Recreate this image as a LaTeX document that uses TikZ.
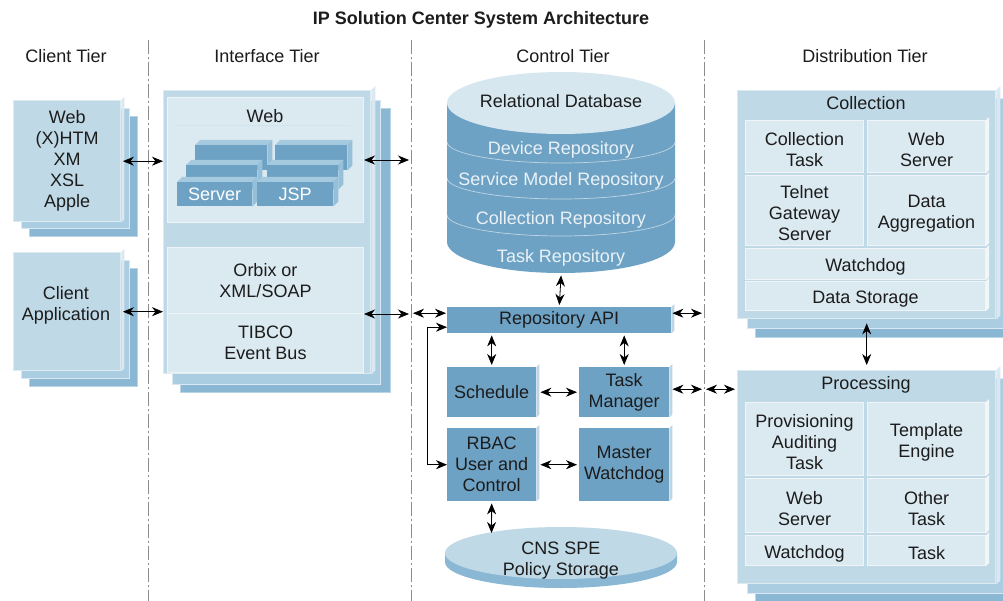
\documentclass[tikz,border=0pt]{standalone}
\usepackage{fontspec}
\setmainfont{Liberation Sans}
\usetikzlibrary{calc,arrows.meta}
\definecolor{midblue}{RGB}{110,162,196}
\definecolor{lightblue}{RGB}{192,217,231}
\definecolor{paleblue}{RGB}{219,233,241}
\definecolor{backblue}{RGB}{170,205,225}
\definecolor{deepblue}{RGB}{138,184,212}
\definecolor{divgray}{RGB}{140,140,140}
\definecolor{txt}{RGB}{28,28,28}
\definecolor{cyltop}{RGB}{214,231,240}
\definecolor{cyltxt}{RGB}{234,242,247}
\definecolor{blktopc}{RGB}{165,202,224}
\definecolor{blksidec}{RGB}{150,192,217}
\newcommand\bx[7]{\node[#6,anchor=north west,inner sep=0pt,minimum width={#4-#2},minimum height={#5-#3}] (#1) at (#2,#3) {#7};}
\newcommand\cbx[6]{\bx{#1}{#2}{#3}{#4}{#5}{cell}{}\node[lbl] (#1-t) at ([yshift=-3pt]#1.center) {#6};}
\newcommand\rface[3]{\fill[#3] (#1.north east) -- ++(#2pt,#2pt) -- ($(#1.south east)+(#2pt,#2pt)$) -- (#1.south east) -- cycle;}
\newcommand\tface[3]{\fill[#3] (#1.north west) -- ++(#2pt,#2pt) -- ($(#1.north east)+(#2pt,#2pt)$) -- (#1.north east) -- cycle;}
\newcommand\blk[6]{\bx{#1}{#2}{#3}{#4}{#5}{blkst}{#6}\tface{#1}{5}{blktopc}\rface{#1}{5}{blksidec}}
\begin{document}
\begin{tikzpicture}[x=1pt,y=-1pt,font=\fontsize{18}{21}\selectfont,text=txt,
 sback/.style={fill=backblue,draw=white!55!backblue,line width=1pt},
 sdeep/.style={fill=deepblue,draw=white!40!deepblue,line width=1pt},
 sfront/.style={fill=lightblue,draw=white!45!lightblue,line width=1.4pt,align=center},
 panel/.style={fill=paleblue,draw=white!50!paleblue,line width=1pt,align=center},
 cell/.style={fill=paleblue,draw=white!55!paleblue,line width=1pt,align=center},
 ctrl/.style={fill=midblue,align=center},
 blkst/.style={fill=midblue,text=white},
 dar/.style={arrows={Stealth[length=11pt,width=9pt,inset=3.5pt]-Stealth[length=11pt,width=9pt,inset=3.5pt]},line width=0.8pt,draw=black},
 divline/.style={draw=divgray,line width=0.9pt,dash pattern=on 14pt off 3pt on 2pt off 3pt},
 lbl/.style={align=center,inner sep=0pt}]
\fill[white] (0,0) rectangle (1003,601);
\useasboundingbox (0,0) rectangle (1003,601);
\clip (0,0) rectangle (1003,601);

% header
\node[font=\bfseries\fontsize{18}{21}\selectfont] (title) at (481,20) {IP Solution Center System Architecture};
\node (t1) at (66,56) {Client Tier};
\node (t2) at (267,56) {Interface Tier};
\node (t3) at (563,56) {Control Tier};
\node (t4) at (865,56) {Distribution Tier};

% dividers
\coordinate (div1) at (148,0);
\coordinate (div2) at (411,0);
\coordinate (div3) at (704,0);
\draw[divline] (148,40) -- (148,601);
\draw[divline] (411,40) -- (411,601);
\draw[divline] (704,40) -- (704,601);

% client tier
\bx{c1c}{29}{116}{137}{236}{sdeep}{}
\bx{c1b}{21}{108}{129}{228}{sback}{}
\bx{c1}{13}{100}{120}{221}{sfront}{Web\\(X)HTM\\XM\\XSL\\Apple}
\rface{c1}{3}{white!40!lightblue}
\bx{c2c}{29}{268}{137}{386}{sdeep}{}
\bx{c2b}{21}{260}{129}{378}{sback}{}
\bx{c2}{13}{252}{120}{370}{sfront}{}
\rface{c2}{3}{white!40!lightblue}
\node[lbl] (c2t) at (66,305) {Client\\Application};

% interface tier
\bx{ib3}{180}{108}{390}{392}{sdeep}{}
\bx{ib2}{172}{100}{380}{384}{sback}{}
\bx{ifr}{163}{90}{370}{373}{sfront}{}
\rface{ifr}{4}{white!40!lightblue}
\bx{webp}{167}{97}{363}{222}{panel}{}
\node (weblbl) at (265,116) {Web};
\draw[white!70!midblue,line width=0.6pt] (176,125) -- (350,125);
\blk{bt1}{195}{145}{267}{170}{}
\blk{bt2}{275}{145}{347}{170}{}
\blk{bm1}{186}{165}{257}{189}{}
\blk{bm2}{267}{165}{338}{189}{}
\blk{srv}{177}{182}{252}{206}{Server}
\blk{jsp}{257}{182}{333}{206}{JSP}
\bx{orbA}{167}{247}{363}{313}{panel}{Orbix or\\XML/SOAP}
\bx{orbB}{167}{313}{363}{372}{panel}{TIBCO\\Event Bus}

% control tier: database cylinder
\fill[midblue] (447,103) -- (447,242) arc[start angle=180,end angle=360,x radius=114pt,y radius=31pt] -- (675,103) -- cycle;
\fill[cyltop] (561,103) ellipse[x radius=114pt,y radius=31pt];
\foreach \yy in {142,178,215}
  \draw[white!55!midblue,line width=0.7pt] (447,\yy) arc[start angle=180,end angle=360,x radius=114pt,y radius=21pt];
\node[anchor=north west,inner sep=0pt,minimum width=228,minimum height=201] (db) at (447,72) {};
\node (dbl) at (561,101) {Relational Database};
\node[text=cyltxt] (r1) at (561,150) {Device Repository};
\node[text=cyltxt] (r2) at (561,181) {Service Model Repository};
\node[text=cyltxt] (r3) at (561,220) {Collection Repository};
\node[text=cyltxt] (r4) at (561,258) {Task Repository};

\bx{api}{447}{307}{671}{333}{ctrl}{Repository API}
\rface{api}{3}{white!55!midblue}
\bx{sched}{447}{367}{536}{417}{ctrl}{Schedule}
\rface{sched}{3}{white!55!midblue}
\bx{tm}{579}{367}{669}{417}{ctrl}{Task\\Manager}
\rface{tm}{3}{white!55!midblue}
\bx{rbac}{447}{428}{536}{501}{ctrl}{RBAC\\User and\\Control}
\rface{rbac}{3}{white!55!midblue}
\bx{mw}{579}{428}{669}{501}{ctrl}{Master\\Watchdog}
\rface{mw}{3}{white!55!midblue}

% policy storage disc
\fill[deepblue] (445,553) -- (445,562) arc[start angle=180,end angle=360,x radius=116pt,y radius=26pt] -- (677,553) -- cycle;
\fill[lightblue] (561,553) ellipse[x radius=116pt,y radius=26pt];
\node[lbl] (pol) at (561,561) {CNS SPE\\Policy Storage};
\coordinate (polin) at (491.5,533);

% distribution tier: collection
\bx{colc}{755}{106}{1013}{337}{sdeep}{}
\bx{colb}{747}{98}{1005}{328}{sback}{}
\bx{collF}{737}{90}{995}{318}{sfront}{}
\rface{collF}{4}{white!40!lightblue}
\node (colllbl) at (866,103) {Collection};
\cbx{cc1}{745}{120}{863}{172}{Collection\\Task}
\cbx{cc2}{867}{120}{985}{172}{Web\\Server}
\cbx{cc3}{745}{175}{863}{245}{Telnet\\Gateway\\Server}
\cbx{cc4}{867}{175}{985}{245}{Data\\Aggregation}
\cbx{cc5}{745}{248}{985}{279}{Watchdog}
\cbx{cc6}{745}{281}{985}{310}{Data Storage}
\foreach \n in {cc2,cc4,cc5,cc6} {\rface{\n}{3}{white!60!paleblue}}

% distribution tier: processing
\bx{proc3}{755}{386}{1013}{603}{sdeep}{}
\bx{proc2}{747}{378}{1005}{593}{sback}{}
\bx{procF}{737}{370}{995}{583}{sfront}{}
\rface{procF}{4}{white!40!lightblue}
\node (proclbl) at (866,385) {Processing};
\cbx{pc1}{745}{402}{863}{475}{Provisioning\\Auditing\\Task}
\cbx{pc2}{867}{402}{985}{475}{Template\\Engine}
\cbx{pc3}{745}{478}{863}{532}{Web\\Server}
\cbx{pc4}{867}{478}{985}{532}{Other\\Task}
\cbx{pc5}{745}{535}{863}{565}{Watchdog}
\cbx{pc6}{867}{535}{985}{565}{Task}
\foreach \n in {pc2,pc4,pc6} {\rface{\n}{3}{white!60!paleblue}}

% connectors
\draw[dar,shorten <=1.5pt] (c1.east) -- (c1.east -| ifr.west);
\draw[dar,shorten <=1.5pt] (c2.east) -- (c2.east -| ifr.west);
\draw[dar,shorten >=2pt] (webp.east) -- (webp.east -| div2);
\draw[dar,shorten >=2pt] (orbA.south east) -- (orbA.south east -| div2);
\draw[dar] ($(api.west -| div2)+(2pt,7pt)$) -- ($(api.west)+(-1pt,7pt)$);
\draw[dar] ($(api.west)+(0,-7pt)$) -- ++(-20pt,0) |- (rbac.west);
\draw[dar,shorten >=2pt] ($(api.east)+(1pt,7pt)$) -- ($(api.east -| div3)+(0,7pt)$);
\draw[dar,shorten <=2pt,shorten >=2pt] (db.south) -- (api.north);
\draw[dar,shorten <=2pt,shorten >=2pt] (sched.north) -- (sched.north |- api.south);
\draw[dar,shorten <=2pt,shorten >=2pt] (tm.north) -- (tm.north |- api.south);
\draw[dar,shorten <=4pt,shorten >=2pt] (sched.east) -- (tm.west);
\draw[dar,shorten <=4pt,shorten >=2pt] (rbac.east) -- (mw.west);
\draw[dar,shorten <=2pt] (rbac.south) -- (polin);
\draw[dar,shorten <=3pt,shorten >=2pt] ($(tm.east)+(0,3pt)$) -- ($(tm.east -| div3)+(0,3pt)$);
\draw[dar,shorten <=2pt,shorten >=2pt] ($(tm.east -| div3)+(0,3pt)$) -- ($(tm.east -| procF.west)+(0,3pt)$);
\draw[dar,shorten <=4pt,shorten >=5pt] (collF.south) -- (procF.north);
\end{tikzpicture}
\end{document}
